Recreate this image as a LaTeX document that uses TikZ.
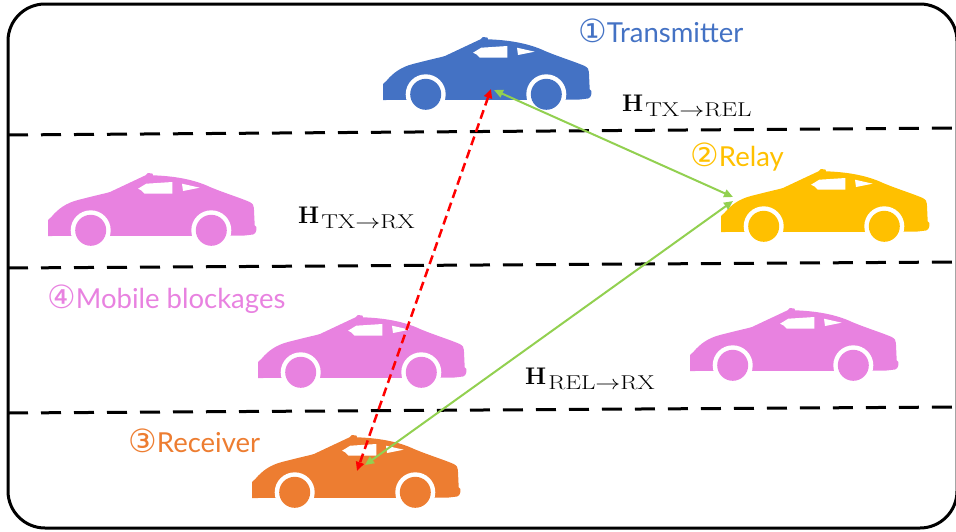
\RequirePackage{fix-cm}
\documentclass[tikz,border=0pt]{standalone}
\usepackage[no-math]{fontspec}
\usepackage{amsmath}
\usepackage{graphicx}
\setmainfont{Lato}
\newfontfamily\circfont{DejaVu Sans}
\usetikzlibrary{arrows.meta}

\definecolor{carblue}{HTML}{4472C4}
\definecolor{cargold}{HTML}{FFC000}
\definecolor{carorange}{HTML}{ED7D31}
\definecolor{carpink}{HTML}{E882E0}
\definecolor{linkgreen}{HTML}{92D050}
\definecolor{linkred}{HTML}{FF0000}

\newcommand{\circnum}[1]{{\circfont\fontsize{32}{34}\selectfont #1}}
% channel matrix symbol with a large, lowered subscript
\newcommand{\chanmat}[2]{{\fontsize{24}{28}\selectfont$\mathbf{H}$}\kern2pt%
  \raisebox{-5pt}{\scalebox{1.25}[1]{\fontsize{20}{24}\selectfont$\mathrm{#1}{\rightarrow}\mathrm{#2}$}}}

\tikzset{
  pics/car/.style={code={
    % body silhouette
    \fill[#1] (0,63) -- (0,47) -- (3.3,44)
      .. controls (10,36) and (18,30) .. (30,27)
      .. controls (45,23) and (55,21) .. (62,19)
      -- (97.5,2.3) -- (100,0) -- (104.5,0.6) -- (105,2.3)
      .. controls (125,3) and (145,6) .. (162,14)
      .. controls (175,19.5) and (194,25.5) .. (201.7,29)
      .. controls (205,31) and (205.7,32) .. (205.9,35)
      -- (206.7,52.3) -- (208.3,54) -- (208.3,57.3)
      .. controls (208,59.5) and (207,61) .. (205,61.5)
      -- (195,62.7) -- cycle;
    % windows
    \fill[white] (90,15.7) -- (98.3,10.7) -- (124.3,9) -- (124.3,20.7)
      -- (96.7,20.7) -- (93.3,17.3) -- cycle;
    \fill[white] (134,10.7) -- (151.7,14.7) -- (135,18) -- cycle;
    % wheels with white rims
    \foreach \wx in {42.7,163.3}{
      \fill[white] (\wx,57.3) circle[radius=20];
      \fill[#1] (\wx,57.3) circle[radius=15.5];
    }
  }},
  lane/.style={line width=3pt, dash pattern=on 20pt off 13pt},
  tag/.style={anchor=base west, inner sep=0pt, font=\fontsize{27.5}{31}\selectfont},
  chan/.style={anchor=base west, inner sep=0pt},
  greenlink/.style={linkgreen, line width=2pt, {Triangle[length=9pt,width=8pt]}-{Triangle[length=9pt,width=8pt]}},
  redlink/.style={linkred, line width=2.5pt, dash pattern=on 9pt off 5pt, {Triangle[length=9pt,width=8pt]}-{Triangle[length=9pt,width=8pt]}}
}

\begin{document}
\begin{tikzpicture}[x=1pt, y=-1pt]
\useasboundingbox (0,0) rectangle (956,531);

% outer frame
\draw[line width=3pt, rounded corners=37pt] (8,4) rectangle (957,528);

% lane markings
\coordinate (laneAw) at (8,135);   \coordinate (laneAe) at (956,128);
\coordinate (laneBw) at (8,268);   \coordinate (laneBe) at (956,262);
\coordinate (laneCw) at (8,413);   \coordinate (laneCe) at (956,407);
\draw[lane] (laneAw) -- (laneAe);
\draw[lane] (laneBw) -- (laneBe);
\draw[lane] (laneCw) -- (laneCe);

% vehicles
\pic (transmitter) at (383,37) {car=carblue};
\pic (relay) at (721,169) {car=cargold};
\pic (receiver) at (252,435) {car=carorange};
\pic (blockA) at (48,173) {car=carpink};
\pic (blockB) at (258,315) {car=carpink};
\pic (blockC) at (690,308) {car=carpink};

% vehicle labels
\node[tag, text=carblue] (txlabel) at (578,42) {\circnum{①}Transmitter};
\node[tag, text=cargold] (rellabel) at (690,166) {\circnum{②}Relay};
\node[tag, text=carorange] (rxlabel) at (128,452) {\circnum{③}Receiver};
\node[tag, text=carpink] (blklabel) at (47,308) {\circnum{④}Mobile blockages};

% channel labels
\node[chan] (htxrel) at (622,111) {\chanmat{TX}{REL}};
\node[chan] (htxrx) at (298,223) {\chanmat{TX}{RX}};
\node[chan] (hrelrx) at (525,384) {\chanmat{REL}{RX}};

% link end points on the vehicles
\coordinate (txRed) at (491,89);
\coordinate (txGreen) at (494,90);
\coordinate (relIn) at (733,197);
\coordinate (relOut) at (733,201);
\coordinate (rxRed) at (357,471);
\coordinate (rxGreen) at (365,465);

% links
\draw[greenlink] (txGreen) -- (relIn);
\draw[greenlink] (relOut) -- (rxGreen);
\draw[redlink] (txRed) -- (rxRed);
\end{tikzpicture}
\end{document}
